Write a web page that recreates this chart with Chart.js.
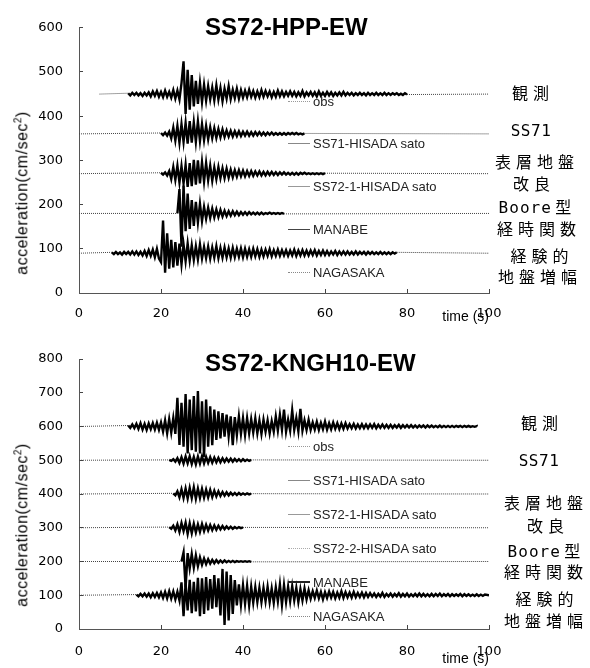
<!DOCTYPE html>
<html>
<head>
<meta charset="utf-8">
<script src="https://cdn.jsdelivr.net/npm/chart.js@4.4.1/dist/chart.umd.min.js"></script>
<style>
  body { margin: 0; background: #fff; }
  #page { position: relative; width: 590px; height: 668px; overflow: hidden; font-family: "Liberation Sans", Arial, sans-serif; color: #000; }
  .panel { position: absolute; left: 0; width: 590px; }
  .panel canvas { position: absolute; left: 0; top: 0; }
  .title { position: absolute; left: 205px; font: bold 24px "Liberation Sans", Arial, sans-serif; line-height: 28px; white-space: nowrap; }
  .ytitle { position: absolute; left: 22px; font-size: 16px; letter-spacing: 0.5px; white-space: nowrap; transform: translate(-50%, -50%) rotate(-90deg); }
  .legend-row { position: absolute; left: 288px; height: 16px; margin-top: -8px; display: flex; align-items: center; font-size: 13px; color: #222; white-space: nowrap; }
  .legend-line { width: 22px; height: 0; margin-right: 3px; }
  .note { position: absolute; width: 130px; margin-left: -65px; margin-top: -10px; line-height: 20px; text-align: center; font-family: "Noto Sans CJK JP", sans-serif; font-size: 16px; white-space: nowrap; }
  .cjk { letter-spacing: 5px; }
  .lat { font-family: "DejaVu Sans Mono", monospace; letter-spacing: 0.5px; }
</style>
</head>
<body>
<div id="page">
  <div class="panel" id="hppPanel" style="top:0;height:330px">
    <canvas id="hppChart" width="590" height="330"></canvas>
    <div class="title" style="top:13px">SS72-HPP-EW</div>
    <div class="ytitle" style="top:193px">acceleration(cm/sec<sup style="font-size:10px">2</sup>)</div>
    <div class="note cjk" style="left:533px;top:92px">観測</div>
    <div class="note lat" style="left:531px;top:131px">SS71</div>
    <div class="note cjk" style="left:537px;top:161px">表層地盤</div>
    <div class="note cjk" style="left:534px;top:183px">改良</div>
    <div class="note" style="left:535px;top:206px"><span class="lat" style="letter-spacing:1px">Boore</span> 型</div>
    <div class="note cjk" style="left:539px;top:228px">経時関数</div>
    <div class="note cjk" style="left:542px;top:255px">経験的</div>
    <div class="note cjk" style="left:540px;top:276px">地盤増幅</div>
  </div>
  <div class="panel" id="kngPanel" style="top:330px;height:338px">
    <canvas id="kngChart" width="590" height="338"></canvas>
    <div class="title" style="top:19px">SS72-KNGH10-EW</div>
    <div class="ytitle" style="top:195px">acceleration(cm/sec<sup style="font-size:10px">2</sup>)</div>
    <div class="note cjk" style="left:542px;top:92px">観測</div>
    <div class="note lat" style="left:539px;top:131px">SS71</div>
    <div class="note cjk" style="left:546px;top:172px">表層地盤</div>
    <div class="note cjk" style="left:548px;top:195px">改良</div>
    <div class="note" style="left:544px;top:220px"><span class="lat" style="letter-spacing:1px">Boore</span> 型</div>
    <div class="note cjk" style="left:546px;top:241px">経時関数</div>
    <div class="note cjk" style="left:547px;top:268px">経験的</div>
    <div class="note cjk" style="left:546px;top:290px">地盤増幅</div>
  </div>
</div>
<script>
// Passo di campionamento (s) delle tracce
const STEP = 0.5;

// ---- Pannello superiore: SS72-HPP-EW ----
const hppLabels = ["obs", "SS71-HISADA sato", "SS72-1-HISADA sato", "MANABE", "NAGASAKA"];
const hppBaselines = [450, 360, 270, 180, 90];
const hppSpans = [[5, 100], [0, 100], [0, 100], [0, 100], [0, 100]];
const hppStarts = [12, 20, 20, 24, 8];
const hppYTicks = [0, 100, 200, 300, 400, 500, 600];

const hppObs = [2,-3,3,-2,3,-3,2,-4,3,-3,4,
  -5,6,-4,7,-6,5,-7,8,-6,5,
  -8,9,-10,8,-12,
  25,74,-45,55,-35,43,-28,30,-22,25,-18,21,-15,18,-12,15,-14,20,-12,14,-16,12,-10,18,-11,10,-9,12,-10,9,-8,
  8,-7,10,-6,7,-8,6,-7,9,-6,7,-5,6,-7,5,-6,8,-5,6,-5,
  5,-4,6,-4,5,-5,4,-4,7,-5,4,-3,5,-4,4,-5,6,-4,3,-4,5,-3,4,-4,3,-3,4,-3,5,-3,
  3,-2,3,-3,2,-2,3,-2,2,-3,3,-2,2,-2,3,-2,2,-2,3,-2,2,-2,2,-1,2,-2,1,-2,2,-1];
const hppSs71 = [2,-3,3,-4,5,
  -10,14,-15,18,-20,22,-18,25,
  -22,29,-20,26,-18,28,-16,22,
  -14,18,-12,15,-10,13,-9,11,-8,10,
  -7,8,-6,7,-6,6,-5,6,-5,5,-4,5,-4,4,-4,4,-3,4,-3,3,
  -3,3,-2,3,-2,2,-2,2,-2,2,-2,2,-1,2,-1,2,-1,1,-1,1];
const hppSs721 = [2,-2,3,-4,6,
  -12,15,-14,18,-20,17,-22,20,
  -30,24,-28,31,-25,30,-22,26,
  -18,24,-15,18,-16,14,-12,15,-10,12,
  -10,11,-9,9,-8,8,-7,8,-6,7,-6,6,-5,6,-5,5,-4,5,-4,4,
  -4,4,-3,4,-3,3,-3,3,-2,3,-2,2,-2,2,-2,2,-2,2,-1,2,-1,1,-1,1,-1,1,-1,1,-1,1];
const hppManabe = [0,
  55,-75,63,-40,
  45,-35,30,-28,26,-20,22,-17,
  15,-12,13,-10,11,-9,9,-8,8,-7,
  6,-6,5,-5,5,-4,4,-4,3,-3,3,-3,3,-2,
  2,-2,2,-2,2,-2,1,-1,2,-1,1,-1,1,-1,1,-1];
const hppNagasaka = [2,-2,3,-2,2,-3,3,-2,3,-3,4,-3,4,-4,3,-5,5,
  -6,7,-6,8,-9,10,-12,
  -20,74,-44,45,-35,
  30,-32,25,-28,22,-25,
  20,-18,22,-16,18,-15,16,-14,20,-12,
  14,-11,15,-12,13,-10,16,-11,12,-10,13,-9,11,-10,12,-9,10,-8,11,-9,10,-8,9,-8,10,-7,9,-8,8,-7,
  8,-6,9,-7,7,-6,8,-6,7,-5,7,-6,6,-5,8,-6,6,-5,7,-5,6,-5,6,-4,7,-5,5,-4,6,-4,
  5,-4,4,-3,5,-4,4,-3,4,-3,4,-3,3,-3,4,-3,3,-2,3,-3,3,-2,3,-2,2,-2,3,-2,2,-2,2,-2,2,-1,2];

// ---- Pannello inferiore: SS72-KNGH10-EW ----
const kngLabels = ["obs", "SS71-HISADA sato", "SS72-1-HISADA sato", "SS72-2-HISADA sato", "MANABE", "NAGASAKA"];
const kngBaselines = [600, 500, 400, 300, 200, 100];
const kngSpans = [[0, 97], [0, 100], [0, 100], [0, 100], [0, 100], [0, 100]];
const kngStarts = [12, 22, 23, 22, 25, 14];
const kngYTicks = [0, 100, 200, 300, 400, 500, 600, 700, 800];

const kngObs = [3,-4,6,-5,8,-7,10,-9,8,-10,9,-8,10,-9,11,-10,12,
  -15,18,-20,22,-18,25,-22,
  85,-55,70,-60,96,-80,80,
  -70,90,-75,105,-80,75,-90,80,
  -60,60,-55,50,-40,45,-35,40,
  -30,35,-28,30,-55,28,-25,30,-22,25,
  -25,25,-20,22,-18,24,-20,18,-22,20,-15,18,-20,16,-15,30,
  -12,35,-10,50,-15,20,-12,48,-10,25,-14,52,-12,18,-10,20,
  -10,12,-9,14,-10,11,-8,15,-9,10,-8,12,-7,10,-8,9,-7,10,
  -6,7,-5,8,-6,6,-5,7,-5,6,-5,6,-4,7,-5,5,-4,6,-4,5,-4,5,-4,4,-3,5,-4,4,-3,4,
  -3,4,-3,3,-3,3,-2,3,-3,3,-2,3,-2,2,-2,3,-2,2,-2,2,-2,2,-2,2,-1,2,-2,2,-1,2,-1,1,-1,1];
const kngSs71 = [1,-2,3,-4,6,
  -8,9,-10,11,-9,12,-11,10,
  -12,11,-10,12,-9,10,-8,9,
  -7,8,-6,7,-6,6,-5,5,
  -4,5,-4,4,-3,3,-3,3,-2,2,-2,1];
const kngSs721 = [2,-4,8,-10,14,
  -12,16,-13,18,-12,20,-14,16,
  -12,15,-11,13,-10,12,-9,10,
  -7,8,-6,6,-5,5,-4,4,
  -3,3,-3,3,-2,2,-2,2,-1,1];
const kngSs722 = [2,-3,6,-8,10,
  -12,14,-10,15,-18,13,-16,12,
  -14,10,-12,11,-10,9,-8,8,
  -7,7,-6,6,-5,5,-4,4,
  -3,3,-3,2,-2,2,-1,1];
const kngManabe = [0,
  27,-77,25,-20,
  22,-18,18,-14,12,-10,
  9,-8,7,-6,5,-5,4,-4,
  3,-3,3,-2,2,-2,2,-2,1,-1,1,-1,1,-1,1,-1];
const kngNagasaka = [2,-3,4,-3,5,-4,5,-6,6,-5,7,-6,8,
  -8,10,-9,12,-10,11,-12,10,-15,
  38,-62,35,-45,46,
  -53,40,-48,52,-62,50,-55,54,
  -45,48,-40,60,-35,50,
  -60,78,-88,70,-75,60,-55,45,
  -30,32,-28,30,-25,28,-30,25,-22,24,-20,22,
  -20,22,-18,25,-20,20,-22,24,-18,32,-28,30,
  -20,25,-18,27,-15,22,-20,18,-15,20,-12,15,
  -10,12,-8,14,-9,10,-12,9,-8,11,-7,10,-9,8,-7,12,-8,9,-6,8,-7,10,-6,7,-5,8,-6,7,
  -5,6,-4,5,-5,4,-4,7,-5,4,-3,5,-4,4,-3,6,-4,4,-3,5,-4,3,-3,4,-3,5,-3,4,-3,3,
  -3,4,-3,4,-2,5,-3,3,-2,4,-3,3,-2,3,-2,4,-3,3,-2,3,-2,2,-2,3,-2,2,-2,2];

// Stili dei campioni di legenda (come nell'originale)
const hppLegendLines = ["1px dotted #999", "1px solid #888", "1px solid #999", "1px solid #444", "1px dotted #888"];
const kngLegendLines = ["1px dotted #999", "1px solid #888", "1px solid #999", "1px dotted #aaa", "2px solid #222", "1px dotted #888"];

// Costruisce i punti di una traccia: linea di base + oscillazioni lette
function buildTrace(base, span, start, values) {
  const pts = [{ x: span[0], y: base }];
  values.forEach((v, i) => pts.push({ x: start + i * STEP, y: base + v }));
  pts.push({ x: span[1], y: base });
  return pts;
}

function isBaseline(c) {
  return c.p1.parsed.x - c.p0.parsed.x > 1;
}

function makeChart(canvasId, labels, baselines, spans, starts, traces, yMax, yTicks, geo) {
  const datasets = labels.map((label, i) => ({
    label,
    data: buildTrace(baselines[i], spans[i], starts[i], traces[i]),
    borderColor: "#000",
    borderWidth: 2.4,
    borderJoinStyle: "miter",
    pointRadius: 0,
    tension: 0,
    segment: {
      borderColor: (c) => (isBaseline(c) ? "#444" : undefined),
      borderWidth: (c) => (isBaseline(c) ? 1 : undefined),
      borderDash: (c) => (isBaseline(c) ? [1, 1] : undefined),
    },
  }));

  return new Chart(document.getElementById(canvasId), {
    type: "line",
    data: { datasets },
    options: {
      responsive: false,
      animation: false,
      events: [],
      layout: { padding: { top: geo.top, right: 101, left: 0, bottom: 0 } },
      plugins: { legend: { display: false }, tooltip: { enabled: false } },
      scales: {
        x: {
          type: "linear",
          min: 0,
          max: 100,
          ticks: { stepSize: 20, padding: geo.xPad, color: "#000", font: { family: "DejaVu Sans", size: 13 }, maxRotation: 0 },
          grid: { drawOnChartArea: false, tickLength: -4, color: "#444" },
          border: { color: "#555" },
          title: { display: true, text: "time (s)", align: "end", color: "#000", font: { family: "Liberation Sans", size: 14 }, padding: { top: 0, bottom: geo.titlePad } },
          afterFit: (s) => { s.height = geo.xHeight; },
        },
        y: {
          type: "linear",
          min: 0,
          max: yMax,
          afterBuildTicks: (s) => { s.ticks = yTicks.map((v) => ({ value: v })); },
          ticks: { padding: 20, color: "#000", font: { family: "DejaVu Sans", size: 13 } },
          grid: { drawOnChartArea: false, tickLength: -4, color: "#444" },
          border: { color: "#555" },
          afterFit: (s) => { s.width = 79; },
        },
      },
    },
  });
}

// Legenda HTML generata dai dataset del grafico
function renderLegend(panelId, chart, lineStyles, firstY, gap) {
  const panel = document.getElementById(panelId);
  chart.data.datasets.forEach((ds, i) => {
    const row = document.createElement("div");
    row.className = "legend-row";
    row.style.top = firstY + i * gap + "px";
    row.innerHTML = `<span class="legend-line" style="border-top:${lineStyles[i]}"></span><span>${ds.label}</span>`;
    panel.appendChild(row);
  });
}

const hppChart = makeChart("hppChart", hppLabels, hppBaselines, hppSpans, hppStarts,
  [hppObs, hppSs71, hppSs721, hppManabe, hppNagasaka], 600, hppYTicks,
  { top: 22, xHeight: 37, xPad: 17, titlePad: 4 });
const kngChart = makeChart("kngChart", kngLabels, kngBaselines, kngSpans, kngStarts,
  [kngObs, kngSs71, kngSs721, kngSs722, kngManabe, kngNagasaka], 800, kngYTicks,
  { top: 29, xHeight: 39, xPad: 19, titlePad: 0 });

renderLegend("hppPanel", hppChart, hppLegendLines, 101, 42.8);
renderLegend("kngPanel", kngChart, kngLegendLines, 116, 34);
</script>
</body>
</html>
